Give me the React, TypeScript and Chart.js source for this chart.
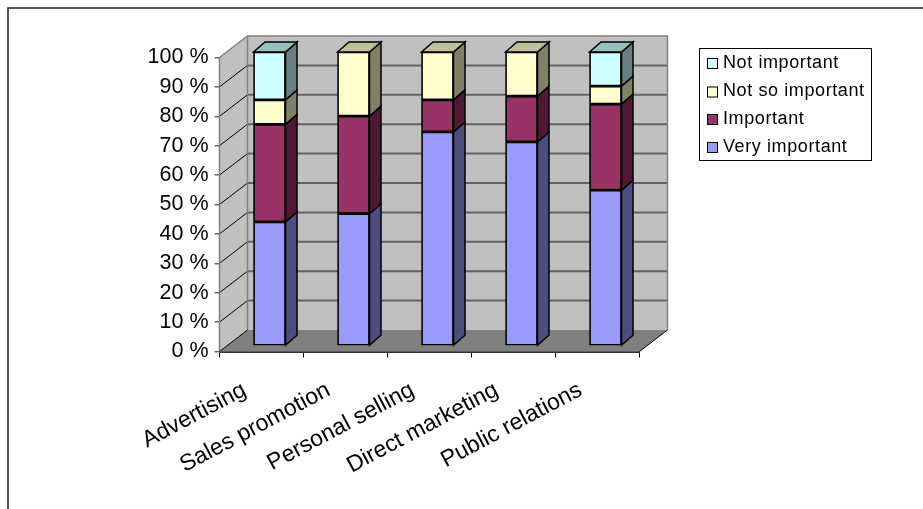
import React, { useEffect, useRef } from "react";
import { Chart, registerables } from "chart.js";

Chart.register(...registerables);

const categories = ["Advertising", "Sales promotion", "Personal selling", "Direct marketing", "Public relations"];
const veryImportant = [42.2, 45, 72.8, 69.4, 53];
const important = [33.2, 33.2, 10.9, 15.6, 29.3];
const notSoImportant = [8.3, 21.8, 16.3, 15, 6.1];
const notImportant = [16.3, 0, 0, 0, 11.6];

const FONT = "'Liberation Sans', Arial, sans-serif";

// Projection of the 3D box: depth of the walls, of the bars, and where the bars sit on the floor.
const WALL_DX = 28;
const WALL_DY = -21.5;
const BAR_DX = 11.5;
const BAR_DY = -10;
const BAR_OFFSET_X = 8;
const BAR_OFFSET_Y = -5.5;

const sideColors = ["#4D4D80", "#4D1A33", "#808066", "#668080"];
const topColors = ["#7373BF", "#732650", "#BFBF99", "#99BFBF"];

const boxPlugin = {
  id: "box3d",
  // Walls, floor and gridlines behind the bars.
  beforeDatasetsDraw(chart: any) {
    const { ctx, chartArea: a, scales } = chart;
    const y = scales.y;
    const backL = a.left + WALL_DX;
    const backR = a.right + WALL_DX;
    const backT = a.top + WALL_DY;
    const backB = a.bottom + WALL_DY;
    ctx.save();
    ctx.fillStyle = "#C0C0C0";
    ctx.fillRect(backL, backT, backR - backL, backB - backT);
    ctx.beginPath();
    ctx.moveTo(a.left, a.top);
    ctx.lineTo(backL, backT);
    ctx.lineTo(backL, backB);
    ctx.lineTo(a.left, a.bottom);
    ctx.closePath();
    ctx.fill();
    ctx.fillStyle = "#808080";
    ctx.beginPath();
    ctx.moveTo(a.left, a.bottom);
    ctx.lineTo(backL, backB);
    ctx.lineTo(backR, backB);
    ctx.lineTo(a.right, a.bottom);
    ctx.closePath();
    ctx.fill();

    for (const v of y.ticks.map((t: any) => t.value)) {
      if (v === 0 || v === 100) continue;
      const py = y.getPixelForValue(v);
      ctx.strokeStyle = "#000000";
      ctx.lineWidth = 1;
      ctx.beginPath();
      ctx.moveTo(a.left, py);
      ctx.lineTo(backL, py + WALL_DY);
      ctx.stroke();
      ctx.strokeStyle = "#636363";
      ctx.lineWidth = 2;
      ctx.beginPath();
      ctx.moveTo(backL, py + WALL_DY);
      ctx.lineTo(backR, py + WALL_DY);
      ctx.stroke();
    }

    ctx.strokeStyle = "#808080";
    ctx.lineWidth = 1.5;
    ctx.beginPath();
    ctx.moveTo(a.left, a.top);
    ctx.lineTo(backL, backT);
    ctx.lineTo(backR, backT);
    ctx.lineTo(backR, backB);
    ctx.moveTo(backL, backT);
    ctx.lineTo(backL, backB);
    ctx.moveTo(a.left, a.top);
    ctx.lineTo(a.left, a.bottom);
    ctx.stroke();

    ctx.strokeStyle = "#000000";
    ctx.lineWidth = 1;
    ctx.beginPath();
    ctx.moveTo(a.left, a.bottom);
    ctx.lineTo(backL, backB);
    ctx.moveTo(a.right, a.bottom);
    ctx.lineTo(backR, backB);
    ctx.stroke();

    // Side and top faces of each stacked segment, then the front faces are shifted to match.
    ctx.translate(BAR_OFFSET_X, BAR_OFFSET_Y);
    ctx.strokeStyle = "#000000";
    ctx.lineWidth = 1.5;
    chart.data.datasets.forEach((_: any, di: number) => {
      chart.getDatasetMeta(di).data.forEach((bar: any, i: number) => {
        const value = chart.data.datasets[di].data[i];
        if (!value) return;
        const right = bar.x + bar.width / 2;
        const left = bar.x - bar.width / 2;
        ctx.fillStyle = sideColors[di];
        ctx.beginPath();
        ctx.moveTo(right, bar.base);
        ctx.lineTo(right + BAR_DX, bar.base + BAR_DY);
        ctx.lineTo(right + BAR_DX, bar.y + BAR_DY);
        ctx.lineTo(right, bar.y);
        ctx.closePath();
        ctx.fill();
        ctx.stroke();
        const isTop = !chart.data.datasets.slice(di + 1).some((d: any) => d.data[i]);
        if (isTop) {
          ctx.fillStyle = topColors[di];
          ctx.beginPath();
          ctx.moveTo(left, bar.y);
          ctx.lineTo(left + BAR_DX, bar.y + BAR_DY);
          ctx.lineTo(right + BAR_DX, bar.y + BAR_DY);
          ctx.lineTo(right, bar.y);
          ctx.closePath();
          ctx.fill();
          ctx.stroke();
        }
      });
    });
  },
  afterDatasetsDraw(chart: any) {
    chart.ctx.restore();
  },
  // Outer frame and the boxed legend, listed from the top of the stack down.
  afterDraw(chart: any) {
    const { ctx, width, height } = chart;
    ctx.save();
    ctx.strokeStyle = "#222222";
    ctx.lineWidth = 1.5;
    ctx.beginPath();
    ctx.moveTo(8, height);
    ctx.lineTo(8, 8);
    ctx.lineTo(width, 8);
    ctx.stroke();

    ctx.fillStyle = "#FFFFFF";
    ctx.strokeStyle = "#000000";
    ctx.lineWidth = 1;
    ctx.fillRect(699.5, 48.5, 172, 112);
    ctx.strokeRect(699.5, 48.5, 172, 112);

    const rowY = [63, 91.5, 119, 147];
    const items = [...chart.data.datasets].reverse();
    ctx.font = `18px ${FONT}`;
    (ctx as any).letterSpacing = "0.6px";
    ctx.textBaseline = "middle";
    items.forEach((d: any, i: number) => {
      ctx.fillStyle = d.backgroundColor;
      ctx.fillRect(707.5, rowY[i] - 4.5, 10, 10);
      ctx.strokeStyle = "#000000";
      ctx.strokeRect(707.5, rowY[i] - 4.5, 10, 10);
      ctx.fillStyle = "#000000";
      ctx.fillText(d.label, 723, rowY[i]);
    });
    ctx.restore();
  },
};

export default function App() {
  const ref = useRef<HTMLCanvasElement | null>(null);

  useEffect(() => {
    const border = { borderColor: "#000000", borderWidth: 1.7, borderSkipped: false as const };
    const chart = new Chart(ref.current as HTMLCanvasElement, {
      type: "bar",
      data: {
        labels: categories,
        datasets: [
          { label: "Very important", data: veryImportant, backgroundColor: "#9999FF", ...border },
          { label: "Important", data: important, backgroundColor: "#993366", ...border },
          { label: "Not so important", data: notSoImportant, backgroundColor: "#FFFFCC", ...border },
          { label: "Not important", data: notImportant, backgroundColor: "#CCFFFF", ...border },
        ],
      },
      options: {
        responsive: false,
        animation: false,
        layout: { padding: { left: 119.5, right: 283.5, top: 57.5, bottom: 7.5 } },
        plugins: { legend: { display: false }, tooltip: { enabled: false } },
        datasets: { bar: { barThickness: 32, clip: false } },
        scales: {
          x: {
            stacked: true,
            afterFit: (s: any) => { s.height = 150; },
            grid: { offset: true, drawOnChartArea: false, color: "#000000", tickLength: 6, lineWidth: 1 },
            border: { color: "#333333", width: 2 },
            ticks: {
              autoSkip: false,
              minRotation: 28,
              maxRotation: 28,
              color: "#000000",
              font: { family: FONT, size: 23 },
              padding: 19,
              labelOffset: -17,
            },
          },
          y: {
            stacked: true,
            min: 0,
            max: 100,
            afterFit: (s: any) => { s.width = 100; },
            grid: { drawOnChartArea: false, color: "#666666", tickLength: 5, lineWidth: 1.5 },
            border: { color: "#808080", width: 1.5 },
            ticks: {
              stepSize: 10,
              color: "#000000",
              font: { family: FONT, size: 21.5 },
              padding: 6,
              callback: (v: any) => `${v} %`,
            },
          },
        },
      },
      plugins: [boxPlugin],
    } as any);
    return () => chart.destroy();
  }, []);

  return (
    <div style={{ position: "fixed", inset: 0, background: "#FFFFFF" }}>
      <canvas ref={ref} width={923} height={509} style={{ display: "block" }} />
    </div>
  );
}
